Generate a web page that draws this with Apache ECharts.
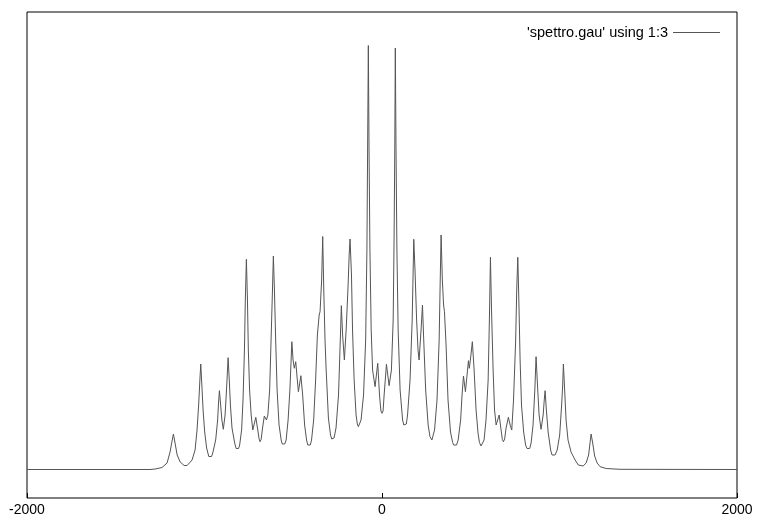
<!DOCTYPE html>
<html>
<head>
<meta charset="utf-8">
<title>spettro.gau</title>
<script src="https://cdn.jsdelivr.net/npm/echarts/dist/echarts.min.js"></script>
<style>
  html, body { margin: 0; padding: 0; background: #fff; }
  #chart { width: 757px; height: 521px; }
</style>
</head>
<body>
<div id="chart"></div>
<script type="text/javascript">
    // columns 1 and 3 of spettro.gau
    var seriesName = "'spettro.gau' using 1:3";
    var xTicks = [-2000, 0, 2000];

    var shift = [
        -2000, -1307, -1278, -1239, -1211, -1194, -1185, -1175, -1166, -1154,
        -1137, -1115, -1098, -1070, -1053, -1042, -1033, -1026, -1021, -1015,
        -1008, -999, -988, -976, -968, -960, -952, -937, -926, -921,
        -916, -909, -902, -894, -884, -876, -871, -867, -861, -854,
        -845, -830, -822, -815, -808, -802, -791, -783, -775, -770,
        -764, -758, -753, -746, -737, -728, -711, -698, -693, -687,
        -681, -673, -663, -651, -643, -633, -625, -617, -612, -606,
        -599, -591, -580, -568, -562, -555, -548, -540, -529, -519,
        -512, -508, -501, -494, -486, -478, -471, -457, -447, -436,
        -425, -418, -411, -404, -397, -385, -374, -364, -354, -349,
        -340, -334, -328, -321, -315, -302, -290, -283, -277, -270,
        -259, -245, -234, -229, -222, -212, -202, -192, -185, -180,
        -172, -166, -157, -146, -139, -133, -126, -118, -104, -92,
        -85, -81, -77, -73, -68, -61, -53, -39, -24, -14,
        -6, 0, 6, 12, 25, 40, 53, 63, 68, 72,
        75, 79, 84, 91, 102, 116, 123, 130, 137, 144,
        158, 170, 179, 186, 195, 203, 209, 220, 228, 234,
        246, 260, 270, 281, 288, 296, 310, 322, 328, 333,
        340, 347, 352, 361, 372, 386, 398, 404, 412, 420,
        429, 443, 451, 459, 470, 487, 492, 501, 509, 519,
        530, 541, 549, 558, 566, 575, 586, 598, 605, 611,
        617, 626, 634, 643, 660, 671, 678, 684, 691, 699,
        712, 722, 731, 741, 753, 759, 765, 771, 778, 786,
        798, 809, 817, 825, 832, 840, 851, 861, 868, 876,
        885, 896, 908, 914, 919, 926, 936, 950, 958, 966,
        975, 987, 1001, 1012, 1018, 1022, 1029, 1037, 1048, 1065,
        1088, 1106, 1133, 1150, 1164, 1172, 1178, 1187, 1198, 1212,
        1229, 1263, 1341, 2000
    ];

    var intensity = [
        0, 0, 0.5, 2, 6.5, 17.5, 26.5, 35.5, 26.5, 14.5,
        7.5, 4, 4, 9.5, 19.5, 39.5, 64.5, 89.5, 105.5, 84.5,
        59.5, 37.5, 21.5, 13, 11.8, 13, 17.5, 29.5, 49.5, 66.5,
        78.8, 64.5, 49.5, 40.2, 54.5, 79.5, 97.5, 111.8, 91.5, 64.5,
        41.5, 26.5, 21, 19.5, 21, 24.5, 39.5, 69.5, 119.5, 169.5,
        210.2, 169.5, 119.5, 79.5, 54.5, 39.5, 52.2, 37.5, 31, 27.8,
        30, 41.5, 53.5, 49.5, 54.5, 79.5, 129.5, 179.5, 213.5, 179.5,
        129.5, 79.5, 44.5, 29.5, 25.5, 23.5, 25.5, 29.5, 49.5, 79.5,
        109.5, 127.8, 109.5, 101.2, 107.8, 91.5, 77.8, 93.8, 74.5, 44.5,
        29.5, 24.5, 22.8, 24.5, 29.5, 49.5, 89.5, 134.5, 154.5, 157.8,
        189.5, 233, 179.5, 129.5, 101.5, 51.5, 34.5, 30.5, 29.5, 31.5,
        41.5, 74.5, 134.5, 163.8, 134.5, 109.5, 139.5, 179.5, 214.5, 230.5,
        194.5, 139.5, 89.5, 54.5, 45.5, 42.8, 44.5, 49.5, 74.5, 129.5,
        219.5, 319.5, 424, 319.5, 219.5, 139.5, 99.5, 82.8, 106.2, 74.5,
        58.5, 56.2, 58.5, 74.5, 105.2, 83.8, 99.5, 149.5, 229.5, 319.5,
        421.5, 319.5, 219.5, 139.5, 79.5, 49.5, 44.5, 42.8, 45.5, 54.5,
        89.5, 149.5, 230.2, 199.5, 149.5, 119.5, 109.5, 139.5, 164.5, 134.5,
        79.5, 44.5, 33, 29.5, 31.5, 39.5, 69.5, 129.5, 189.5, 234.5,
        189.5, 164.5, 157.8, 124.5, 69.5, 37.5, 27, 24.5, 22.8, 24.5,
        29.5, 49.5, 74.5, 93.5, 77.8, 108.8, 101.2, 114.5, 127.8, 99.5,
        59.5, 36.5, 27, 23.5, 25.5, 29.5, 49.5, 89.5, 149.5, 212.2,
        159.5, 99.5, 59.5, 44.5, 54.5, 39.5, 30, 27.8, 30.5, 41.5,
        52.2, 44.5, 39.5, 69.5, 129.5, 179.5, 212.2, 169.5, 109.5, 64.5,
        37.5, 24.5, 21, 19.5, 21, 26.5, 44.5, 79.5, 112.8, 84.5,
        54.5, 40.2, 54.5, 69.5, 78.8, 59.5, 37.5, 19.5, 14.5, 12.8,
        14.5, 19.5, 34.5, 64.5, 84.5, 105.5, 79.5, 49.5, 29.5, 17.5,
        9.5, 4.5, 3.5, 6.5, 14.5, 26.5, 35.5, 26.5, 13.5, 6.5,
        2.8, 1, 0.2, 0
    ];

    var points = shift.map(function (x, i) { return [x, intensity[i]]; });

    var chart = echarts.init(document.getElementById('chart'));
    var option = {
        animation: false,
        backgroundColor: '#fff',
        textStyle: { fontFamily: 'Liberation Sans, Arial, sans-serif' },
        grid: {
            left: 27, right: 20, top: 12, bottom: 23,
            show: true,
            borderColor: '#000',
            borderWidth: 1
        },
        legend: {
            right: 32,
            top: 20,
            align: 'right',
            itemWidth: 47,
            itemHeight: 1,
            textStyle: { fontSize: 14.5, color: '#000' },
            data: [{ name: seriesName, icon: 'rect' }]
        },
        xAxis: {
            type: 'value',
            min: xTicks[0],
            max: xTicks[xTicks.length - 1],
            interval: xTicks[1] - xTicks[0],
            axisLine: { show: false, onZero: false },
            axisTick: { show: true, inside: true, length: 5, lineStyle: { color: '#000' } },
            splitLine: { show: false },
            axisLabel: {
                fontSize: 14,
                color: '#000',
                margin: 5,
                formatter: function (v) { return String(v); }
            }
        },
        yAxis: {
            type: 'value',
            min: -28.5,
            max: 457.5,
            show: false
        },
        series: [{
            name: seriesName,
            type: 'line',
            color: '#555',
            showSymbol: false,
            lineStyle: { color: '#555', width: 1 },
            data: points
        }]
    };
    chart.setOption(option);
</script>
</body>
</html>
